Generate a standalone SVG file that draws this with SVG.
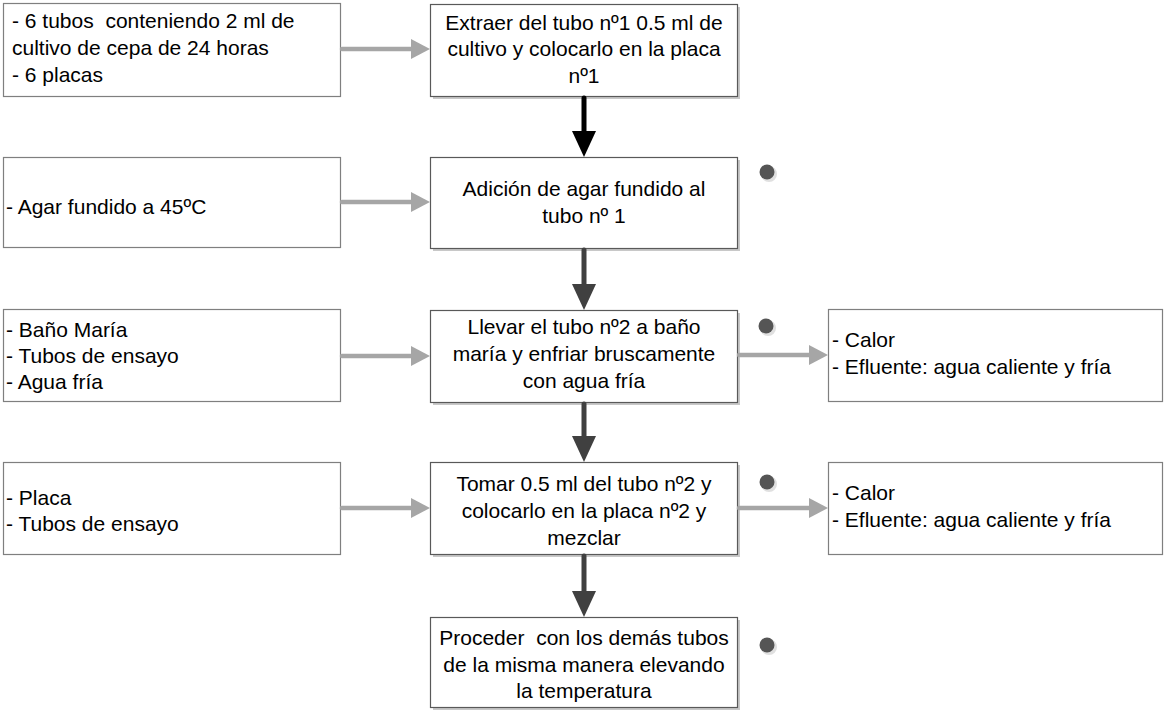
<svg xmlns="http://www.w3.org/2000/svg" width="1165" height="711" viewBox="0 0 1165 711">
<defs>
<style>
.side{fill:#fff;stroke:#7f7f7f;stroke-width:1.2}
.main{fill:#fff;stroke:#595959;stroke-width:1.2}
.shadow{fill:#c8c8c8}
text{font-family:"Liberation Sans",Arial,sans-serif;font-size:21px;fill:#000;white-space:pre}
.c{text-anchor:middle}
.g{stroke:#a6a6a6;stroke-width:4.5;fill:none;stroke-linecap:round}
.ga{fill:#a6a6a6}
.d{stroke:#404040;stroke-width:5;fill:none;stroke-linecap:round}
.da{fill:#404040}
.dot{fill:#555}
.dsh{fill:#e0e0e0}
</style>
</defs>
<rect width="1165" height="711" fill="#fff"/>

<g id="in1"><rect class="side" x="3.5" y="3.5" width="337" height="93"/>
<text x="12" y="28" xml:space="preserve">- 6 tubos  conteniendo 2 ml de</text>
<text x="12" y="55">cultivo de cepa de 24 horas</text>
<text x="12" y="82">- 6 placas</text></g>

<g id="in2"><rect class="side" x="3.5" y="157.5" width="337" height="90"/>
<text x="6" y="214">- Agar fundido a 45ºC</text></g>

<g id="in3"><rect class="side" x="3.5" y="309.5" width="337" height="92"/>
<text x="6" y="337">- Baño María</text>
<text x="6" y="363">- Tubos de ensayo</text>
<text x="6" y="389">- Agua fría</text></g>

<g id="in4"><rect class="side" x="3.5" y="462.5" width="337" height="92"/>
<text x="6" y="505">- Placa</text>
<text x="6" y="531">- Tubos de ensayo</text></g>

<g id="p1"><rect class="shadow" x="433" y="7" width="307" height="92"/><rect class="main" x="430.5" y="4.5" width="307" height="92"/>
<text class="c" x="584" y="30">Extraer del tubo nº1 0.5 ml de</text>
<text class="c" x="584" y="56">cultivo y colocarlo en la placa</text>
<text class="c" x="584" y="83">nº1</text></g>

<g id="p2"><rect class="shadow" x="433" y="160" width="307" height="91"/><rect class="main" x="430.5" y="157.5" width="307" height="91"/>
<text class="c" x="584" y="196">Adición de agar fundido al</text>
<text class="c" x="584" y="223">tubo nº 1</text></g>

<g id="p3"><rect class="shadow" x="433" y="313" width="307" height="92"/><rect class="main" x="430.5" y="310.5" width="307" height="92"/>
<text class="c" x="584" y="334">Llevar el tubo nº2 a baño</text>
<text class="c" x="584" y="361">maría y enfriar bruscamente</text>
<text class="c" x="584" y="388">con agua fría</text></g>

<g id="p4"><rect class="shadow" x="433" y="465" width="307" height="92"/><rect class="main" x="430.5" y="462.5" width="307" height="92"/>
<text class="c" x="584" y="491">Tomar 0.5 ml del tubo nº2 y</text>
<text class="c" x="584" y="518">colocarlo en la placa nº2 y</text>
<text class="c" x="584" y="545">mezclar</text></g>

<g id="p5"><rect class="shadow" x="433" y="620" width="307" height="90"/><rect class="main" x="430.5" y="617.5" width="307" height="90"/>
<text class="c" x="584" y="645" xml:space="preserve">Proceder  con los demás tubos</text>
<text class="c" x="584" y="672">de la misma manera elevando</text>
<text class="c" x="584" y="698">la temperatura</text></g>

<g id="out3"><rect class="side" x="828.5" y="309.5" width="334" height="92"/>
<text x="832" y="347">- Calor</text>
<text x="832" y="374">- Efluente: agua caliente y fría</text></g>

<g id="out4"><rect class="side" x="828.5" y="462.5" width="334" height="92"/>
<text x="832" y="500">- Calor</text>
<text x="832" y="527">- Efluente: agua caliente y fría</text></g>

<g id="dots">
<circle class="dsh" cx="769" cy="174" r="8"/><circle class="dot" cx="767" cy="172" r="7.5"/>
<circle class="dsh" cx="768" cy="328" r="8"/><circle class="dot" cx="766" cy="326" r="7.5"/>
<circle class="dsh" cx="769" cy="484" r="8"/><circle class="dot" cx="767" cy="482" r="7.5"/>
<circle class="dsh" cx="769" cy="647" r="8"/><circle class="dot" cx="767" cy="645" r="7.5"/>
</g>

<g id="connectors">
<line class="g" x1="342" y1="49" x2="412" y2="49"/><polygon class="ga" points="411,39 430,49 411,59"/>
<line class="g" x1="342" y1="202" x2="412" y2="202"/><polygon class="ga" points="411,192 430,202 411,212"/>
<line class="g" x1="342" y1="356" x2="412" y2="356"/><polygon class="ga" points="411,346 430,356 411,366"/>
<line class="g" x1="342" y1="508" x2="412" y2="508"/><polygon class="ga" points="411,498 430,508 411,518"/>
<line class="g" x1="739" y1="355" x2="810" y2="355"/><polygon class="ga" points="809,345 828,355 809,365"/>
<line class="g" x1="739" y1="508" x2="810" y2="508"/><polygon class="ga" points="809,498 828,508 809,518"/>

<line x1="584" y1="98" x2="584" y2="133" stroke="#000" stroke-width="5" stroke-linecap="round"/><polygon fill="#000" points="572,131 596,131 584,157"/>
<line class="d" x1="584" y1="250" x2="584" y2="286"/><polygon class="da" points="572,284 596,284 584,310"/>
<line class="d" x1="584" y1="404" x2="584" y2="438"/><polygon class="da" points="572,436 596,436 584,462"/>
<line class="d" x1="584" y1="556" x2="584" y2="593"/><polygon class="da" points="572,591 596,591 584,617"/>
</g>
</svg>
